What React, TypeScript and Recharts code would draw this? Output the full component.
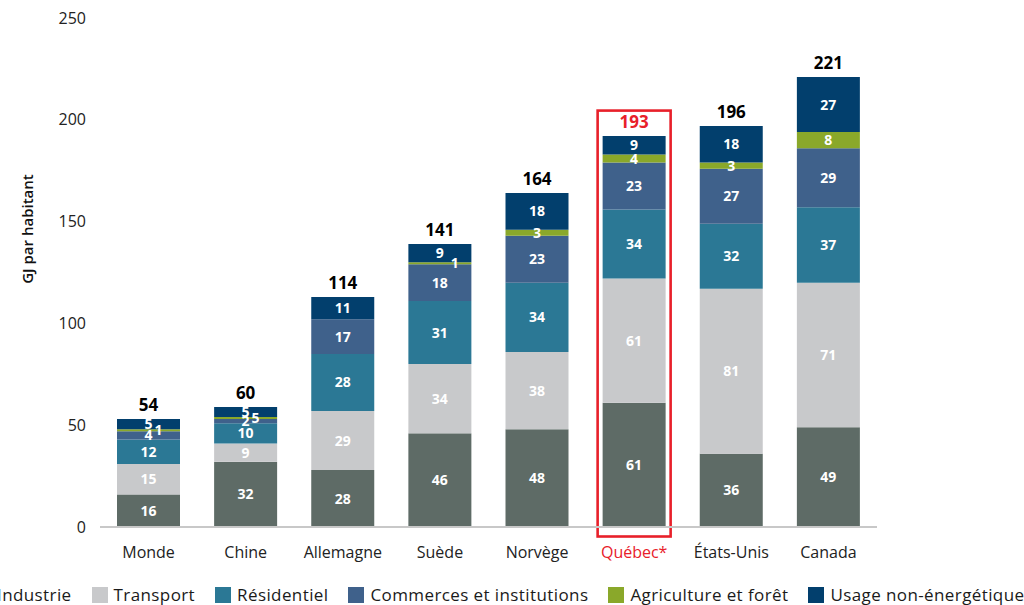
import React from 'react';
import { BarChart, Bar, XAxis, YAxis, LabelList } from 'recharts';

const categories = ['Monde', 'Chine', 'Allemagne', 'Suède', 'Norvège', 'Québec*', 'États-Unis', 'Canada'];
const industrie = [16, 32, 28, 46, 48, 61, 36, 49];
const transport = [15, 9, 29, 34, 38, 61, 81, 71];
const residentiel = [12, 10, 28, 31, 34, 34, 32, 37];
const commerces = [4, 2, 17, 18, 23, 23, 27, 29];
const agriculture = [1, 1, 0, 1, 3, 4, 3, 8];
const agricultureLabels = ['1', '5', '', '1', '3', '4', '3', '8'];
const usage = [5, 5, 11, 9, 18, 9, 18, 27];
const totals = [54, 60, 114, 141, 164, 193, 196, 221];
const yTicks = [0, 50, 100, 150, 200, 250];

const HIGHLIGHT = 'Québec*';
const RED = '#e8202a';

const COLORS = {
  industrie: '#5e6b66',
  transport: '#c8c9cb',
  residentiel: '#2b7895',
  commerces: '#3f618b',
  agriculture: '#8aa82a',
  usage: '#023f6d',
};

const series = [
  { key: 'industrie', name: 'Industrie', color: COLORS.industrie },
  { key: 'transport', name: 'Transport', color: COLORS.transport },
  { key: 'residentiel', name: 'Résidentiel', color: COLORS.residentiel },
  { key: 'commerces', name: 'Commerces et institutions', color: COLORS.commerces },
  { key: 'agriculture', name: 'Agriculture et forêt', color: COLORS.agriculture },
  { key: 'usage', name: 'Usage non-énergétique', color: COLORS.usage },
];

const data = categories.map((c, i) => ({
  category: c,
  industrie: industrie[i],
  transport: transport[i],
  residentiel: residentiel[i],
  commerces: commerces[i],
  agriculture: agriculture[i],
  usage: usage[i],
  total: totals[i],
}));

// horizontal nudge of the thin agriculture labels (by category)
const agriDx: Record<string, number> = { Monde: 10, Chine: 10, 'Suède': 15 };

function getBox(props: any) {
  const vb = props.viewBox || {};
  return {
    x: props.x ?? vb.x,
    y: props.y ?? vb.y,
    width: props.width ?? vb.width,
    height: props.height ?? vb.height,
  };
}

function SegText({ x, y, text }: { x: number; y: number; text: string }) {
  return (
    <text x={x} y={y} dy="0.36em" textAnchor="middle" fill="#ffffff" fontSize={14} fontWeight={700}>
      {text}
    </text>
  );
}

const segLabel = (props: any) => {
  const { value } = props;
  if (value === '' || value === 0 || value == null) return null;
  const b = getBox(props);
  return <SegText x={b.x + b.width / 2} y={b.y + b.height / 2} text={String(value)} />;
};

const agriLabel = (props: any) => {
  const cat = props.value as string;
  const i = categories.indexOf(cat);
  if (i < 0) return null;
  const text = agricultureLabels[i];
  if (!text) return null;
  const b = getBox(props);
  const dx = agriDx[cat] || 0;
  return <SegText x={b.x + b.width / 2 + dx} y={b.y + b.height / 2} text={text} />;
};

const totalLabel = (props: any) => {
  const cat = props.value as string;
  const i = categories.indexOf(cat);
  if (i < 0) return null;
  const b = getBox(props);
  const isQ = cat === HIGHLIGHT;
  return (
    <text
      x={b.x + b.width / 2}
      y={b.y - 8}
      textAnchor="middle"
      fill={isQ ? RED : '#000000'}
      fontSize={17}
      fontWeight={700}
    >
      {totals[i]}
    </text>
  );
};

const IndustrieShape = (props: any) => {
  const { x, y, width, height, fill, payload } = props;
  let outline = null;
  if (payload && payload.category === HIGHLIGHT && payload.industrie > 0) {
    const unit = height / payload.industrie;
    const sum =
      payload.industrie + payload.transport + payload.residentiel + payload.commerces + payload.agriculture + payload.usage;
    const base = y + height;
    const top = base - sum * unit;
    outline = (
      <rect
        x={x - 5}
        y={top - 25.5}
        width={width + 10}
        height={base + 9.5 - (top - 25.5)}
        fill="none"
        stroke={RED}
        strokeWidth={2.6}
      />
    );
  }
  return (
    <g>
      <rect x={x} y={y} width={width} height={height} fill={fill} />
      {outline}
    </g>
  );
};

const XTick = (props: any) => {
  const { x, y, payload } = props;
  const isQ = payload.value === HIGHLIGHT;
  return (
    <text x={x} y={y} dy="0.71em" textAnchor="middle" fill={isQ ? RED : '#222222'} fontSize={16}>
      {payload.value}
    </text>
  );
};

const YLabel = () => (
  <text
    x={28}
    y={229}
    transform="rotate(-90 28 229)"
    textAnchor="middle"
    dy="0.36em"
    fill="#111111"
    fontSize={15}
    fontWeight={600}
  >
    GJ par habitant
  </text>
);

export default function App() {
  return (
    <div
      style={{
        position: 'absolute',
        left: 0,
        top: 0,
        width: 1024,
        height: 605,
        fontFamily: '"Open Sans", sans-serif',
        overflow: 'hidden',
      }}
    >
      <BarChart
        width={1024}
        height={605}
        data={data}
        margin={{ top: 18, right: 147, bottom: 48, left: 0 }}
        barSize={63}
      >
        <XAxis
          dataKey="category"
          height={30}
          axisLine={{ stroke: '#c8c8c8', strokeWidth: 2 }}
          tickLine={false}
          tickMargin={14}
          tick={<XTick />}
          interval={0}
        />
        <YAxis
          width={100}
          domain={[0, 250]}
          ticks={yTicks}
          axisLine={false}
          tickLine={false}
          tickMargin={8}
          tick={{ fill: '#222222', fontSize: 16 }}
          label={<YLabel />}
        />
        <Bar dataKey="industrie" stackId="a" fill={COLORS.industrie} isAnimationActive={false} shape={<IndustrieShape />}>
          <LabelList dataKey="industrie" content={segLabel} />
        </Bar>
        <Bar dataKey="transport" stackId="a" fill={COLORS.transport} isAnimationActive={false}>
          <LabelList dataKey="transport" content={segLabel} />
        </Bar>
        <Bar dataKey="residentiel" stackId="a" fill={COLORS.residentiel} isAnimationActive={false}>
          <LabelList dataKey="residentiel" content={segLabel} />
        </Bar>
        <Bar dataKey="commerces" stackId="a" fill={COLORS.commerces} isAnimationActive={false}>
          <LabelList dataKey="commerces" content={segLabel} />
        </Bar>
        <Bar dataKey="agriculture" stackId="a" fill={COLORS.agriculture} isAnimationActive={false}>
          <LabelList dataKey="category" content={agriLabel} />
        </Bar>
        <Bar dataKey="usage" stackId="a" fill={COLORS.usage} isAnimationActive={false}>
          <LabelList dataKey="usage" content={segLabel} />
          <LabelList dataKey="category" content={totalLabel} />
        </Bar>
      </BarChart>
      <div
        style={{
          position: 'absolute',
          left: -25,
          top: 583,
          display: 'flex',
          alignItems: 'center',
          whiteSpace: 'nowrap',
          fontSize: 17,
          letterSpacing: 0.4,
          lineHeight: '24px',
          color: '#1a1a1a',
        }}
      >
        {series.map((s) => (
          <div key={s.key} style={{ display: 'flex', alignItems: 'center', marginRight: 20 }}>
            <span style={{ display: 'inline-block', width: 16, height: 16, background: s.color, marginRight: 6 }} />
            <span>{s.name}</span>
          </div>
        ))}
      </div>
    </div>
  );
}
